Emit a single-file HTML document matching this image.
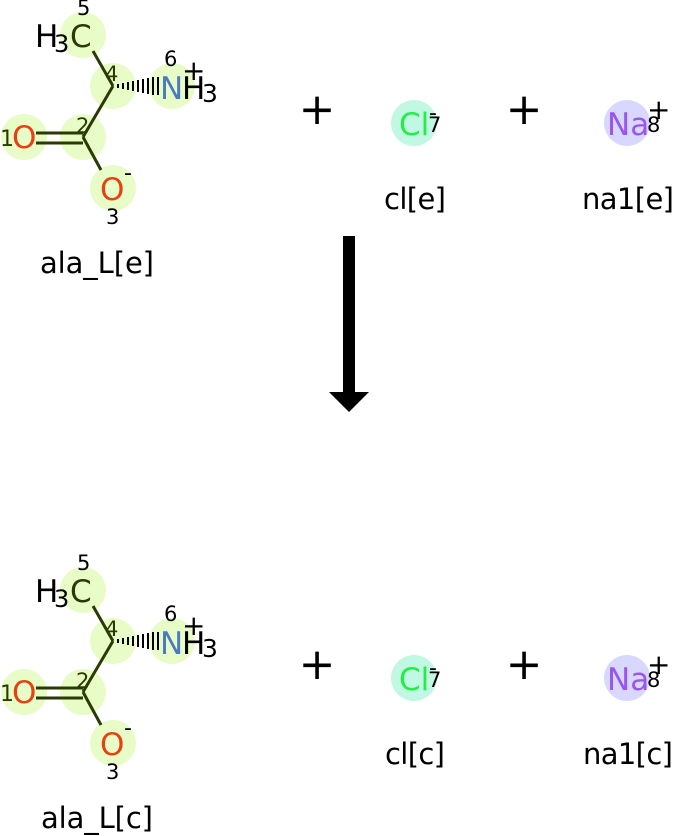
<!DOCTYPE html>
<html><head><style>body{margin:0;background:#fff}svg{display:block}text{font-family:"DejaVu Sans","Liberation Sans",sans-serif}</style></head><body>
<svg width="673" height="836" viewBox="0 0 673 836" xmlns="http://www.w3.org/2000/svg">
<defs>
<g id="ala">
<g fill="#e8fcc8">
<circle cx="83" cy="35" r="23"/><circle cx="113" cy="86" r="23"/><circle cx="172" cy="86" r="23"/>
<circle cx="83" cy="137" r="23"/><circle cx="24" cy="137" r="23"/><circle cx="113" cy="188" r="23"/>
</g>
<g stroke="#2a3a00" stroke-width="3" fill="none">
<line x1="93" y1="51" x2="113" y2="86"/><line x1="113" y1="86" x2="83" y2="137"/>
<line x1="83" y1="137" x2="101" y2="170"/>
<line x1="36" y1="133" x2="83" y2="133"/><line x1="36" y1="143" x2="83" y2="143"/>
</g>
<g stroke="#000" stroke-width="2">
<line x1="118" y1="84" x2="118" y2="88"/><line x1="123" y1="83" x2="123" y2="89"/><line x1="128" y1="82" x2="128" y2="90"/><line x1="133" y1="81" x2="133" y2="91"/><line x1="138" y1="80" x2="138" y2="92"/><line x1="143" y1="79" x2="143" y2="93"/><line x1="148" y1="78" x2="148" y2="94"/><line x1="153" y1="77" x2="153" y2="95"/><line x1="158" y1="77" x2="158" y2="95"/>
</g>
<text x="35" y="47" style="font-size:31px" fill="#000">H</text><text x="54" y="52" style="font-size:24px" fill="#000">3</text><text x="70" y="47" style="font-size:31px" fill="#2a3a00">C</text>
<text x="77" y="15" style="font-size:21px">5</text>
<text x="105" y="81" style="font-size:21px" fill="#2a3a00">4</text>
<text x="164" y="66" style="font-size:21px">6</text>
<text x="160" y="99" style="font-size:31px" fill="#4a7ac0">N</text><text x="182" y="99" style="font-size:31px">H</text><text x="202" y="102" style="font-size:25px">3</text>
<text x="182" y="80" style="font-size:28px">+</text>
<text x="0" y="146" style="font-size:22px" fill="#2a3a00">1</text><text x="12" y="148" style="font-size:31px" fill="#e84010">O</text>
<text x="76" y="133" style="font-size:21px" fill="#2a3a00">2</text>
<text x="100" y="200" style="font-size:31px" fill="#e84010">O</text><text x="124" y="180" style="font-size:22px">-</text>
<text x="106" y="224" style="font-size:21px">3</text>
</g>
<g id="ions">
<text x="317" y="124" style="font-size:44px" text-anchor="middle">+</text>
<text x="524" y="124" style="font-size:44px" text-anchor="middle">+</text>
<circle cx="414" cy="123" r="23" fill="#c0f8e4"/>
<text x="399" y="135" style="font-size:31px" fill="#22ee44">Cl</text>
<text x="429" y="120" style="font-size:22px">-</text><text x="428" y="132" style="font-size:21px">7</text>
<circle cx="627" cy="123" r="23" fill="#d8d8fe"/>
<text x="607" y="135" style="font-size:31px" fill="#9955ee">Na</text>
<text x="647" y="119" style="font-size:28px">+</text><text x="647" y="132" style="font-size:21px">8</text>
</g>
</defs>
<use href="#ala"/>
<use href="#ions"/>
<text x="97" y="273" style="font-size:29px" text-anchor="middle" textLength="114">ala_L[e]</text>
<text x="415" y="209" style="font-size:29px" text-anchor="middle" textLength="62">cl[e]</text>
<text x="628" y="209" style="font-size:29px" text-anchor="middle" textLength="92">na1[e]</text>
<rect x="343" y="236" width="12" height="158" fill="#000"/>
<polygon points="329,392 369,392 349,412" fill="#000"/>
<g transform="translate(0,555)"><use href="#ala"/><use href="#ions"/></g>
<text x="97" y="828" style="font-size:29px" text-anchor="middle" textLength="112">ala_L[c]</text>
<text x="415" y="764" style="font-size:29px" text-anchor="middle" textLength="60">cl[c]</text>
<text x="628" y="764" style="font-size:29px" text-anchor="middle" textLength="90">na1[c]</text>
</svg>
</body></html>
